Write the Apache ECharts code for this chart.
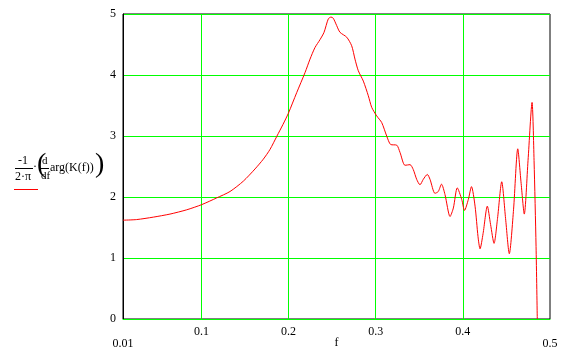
<!DOCTYPE html>
<html>
<head>
<meta charset="utf-8">
<script src="https://cdn.jsdelivr.net/npm/echarts@6/dist/echarts.min.js"></script>
<style>
html,body{margin:0;padding:0;background:#fff;}
#c{width:575px;height:349px;}
</style>
</head>
<body>
<div id="c"></div>
<script>
var fValues = [0.01,0.0257,0.0448,0.0639,0.0831,0.1003,0.1175,0.1328,0.1481,0.1615,0.171,0.1787,0.1867,0.1936,0.1997,0.2093,0.2189,0.2246,0.2303,0.2361,0.2407,0.2456,0.2487,0.2513,0.2552,0.2590,0.2667,0.2724,0.2762,0.2800,0.2858,0.2915,0.2954,0.3011,0.3069,0.3126,0.3172,0.3241,0.3279,0.3336,0.3394,0.3431,0.3470,0.3508,0.3546,0.3592,0.3623,0.3680,0.3718,0.3755,0.3795,0.3853,0.3891,0.3936,0.3987,0.4019,0.4063,0.4099,0.4140,0.4174,0.4197,0.4232,0.4281,0.4318,0.4358,0.4398,0.4446,0.4490,0.4533,0.4582,0.4630,0.4667,0.4705,0.4748,0.4794,0.4817,0.4840,0.4854];
var yValues = [1.62,1.63,1.67,1.72,1.79,1.875,1.985,2.09,2.26,2.46,2.62,2.78,3.0,3.19,3.37,3.71,4.04,4.26,4.45,4.58,4.70,4.92,4.95,4.93,4.81,4.70,4.62,4.48,4.26,4.07,3.90,3.66,3.47,3.33,3.22,3.0,2.86,2.85,2.73,2.52,2.53,2.45,2.29,2.20,2.29,2.37,2.29,2.06,2.09,2.21,2.04,1.68,1.82,2.15,1.96,1.78,1.96,2.17,1.85,1.35,1.15,1.40,1.85,1.55,1.24,1.65,2.25,1.65,1.07,1.80,2.79,2.25,1.72,2.6,3.55,2.6,1.19,0.0];
var xGridValues = [0.1,0.2,0.3,0.4];
var xLabelValues = [0.01,0.1,0.2,0.3,0.4,0.5];
var xEndValues = [0.01,0.5];
var xName = 'f';

var seriesData = fValues.map(function(f,i){return [f,yValues[i]];});
var GREEN = '#00ff00';
var FONT = 'Liberation Serif';

var chart = echarts.init(document.getElementById('c'), null, {renderer:'canvas'});
chart.setOption({
  animation:false,
  backgroundColor:'#ffffff',
  grid:{left:123,right:25,top:14,bottom:30,containLabel:false,outerBoundsMode:'none',
    show:true,borderColor:'#000',borderWidth:1,backgroundColor:'transparent'},
  xAxis:{
    type:'value',min:0.01,max:0.5,
    axisLine:{show:true,onZero:false,lineStyle:{color:GREEN,width:1}},
    axisTick:{show:false,customValues:xGridValues},
    axisLabel:{customValues:xLabelValues,color:'#000',fontFamily:FONT,fontSize:12,margin:7,
      verticalAlign:'top',lineHeight:12,showMinLabel:true,showMaxLabel:true,
      formatter:function(v){
        var r = Math.round(v*100)/100;
        return xEndValues.indexOf(r) >= 0 ? '\n' + r : String(r);
      }},
    splitLine:{show:true,lineStyle:{color:[GREEN],width:1}},
    name:xName,nameLocation:'middle',nameGap:18,nameMoveOverlap:false,
    nameTextStyle:{color:'#000',fontFamily:FONT,fontSize:12}
  },
  yAxis:{
    type:'value',min:0,max:5,interval:1,
    axisLine:{show:true,onZero:false,lineStyle:{color:'#000',width:1}},
    axisTick:{show:false},
    axisLabel:{color:'#000',fontFamily:FONT,fontSize:12,margin:7},
    splitLine:{show:true,lineStyle:{color:[GREEN],width:1}}
  },
  series:[{
    type:'line',data:seriesData,
    showSymbol:false,smooth:0.25,
    lineStyle:{color:'#ff0000',width:1},
    z:5
  }],
  graphic:[
    {type:'text',left:18,top:155,style:{text:'-1',font:'12px '+FONT,fill:'#000'}},
    {type:'line',shape:{x1:15,y1:168.5,x2:33,y2:168.5},style:{stroke:'#000',lineWidth:1}},
    {type:'text',left:15,top:171,style:{text:'2·π',font:'12px '+FONT,fill:'#000'}},
    {type:'text',left:33,top:161,style:{text:'·',font:'12px '+FONT,fill:'#000'}},
    {type:'text',left:37,top:151,style:{text:'(',font:'28px '+FONT,fill:'#000'}},
    {type:'text',left:42,top:156,style:{text:'d',font:'11px '+FONT,fill:'#000'}},
    {type:'line',shape:{x1:41,y1:168.5,x2:49,y2:168.5},style:{stroke:'#000',lineWidth:1}},
    {type:'text',left:41,top:171,style:{text:'df',font:'11px '+FONT,fill:'#000'}},
    {type:'text',left:50,top:162,style:{text:'arg(K(f))',font:'12px '+FONT,fill:'#000'}},
    {type:'text',left:95,top:151,style:{text:')',font:'28px '+FONT,fill:'#000'}},
    {type:'line',shape:{x1:14,y1:189.5,x2:38,y2:189.5},style:{stroke:'#ff0000',lineWidth:1}}
  ]
});
</script>
</body>
</html>
